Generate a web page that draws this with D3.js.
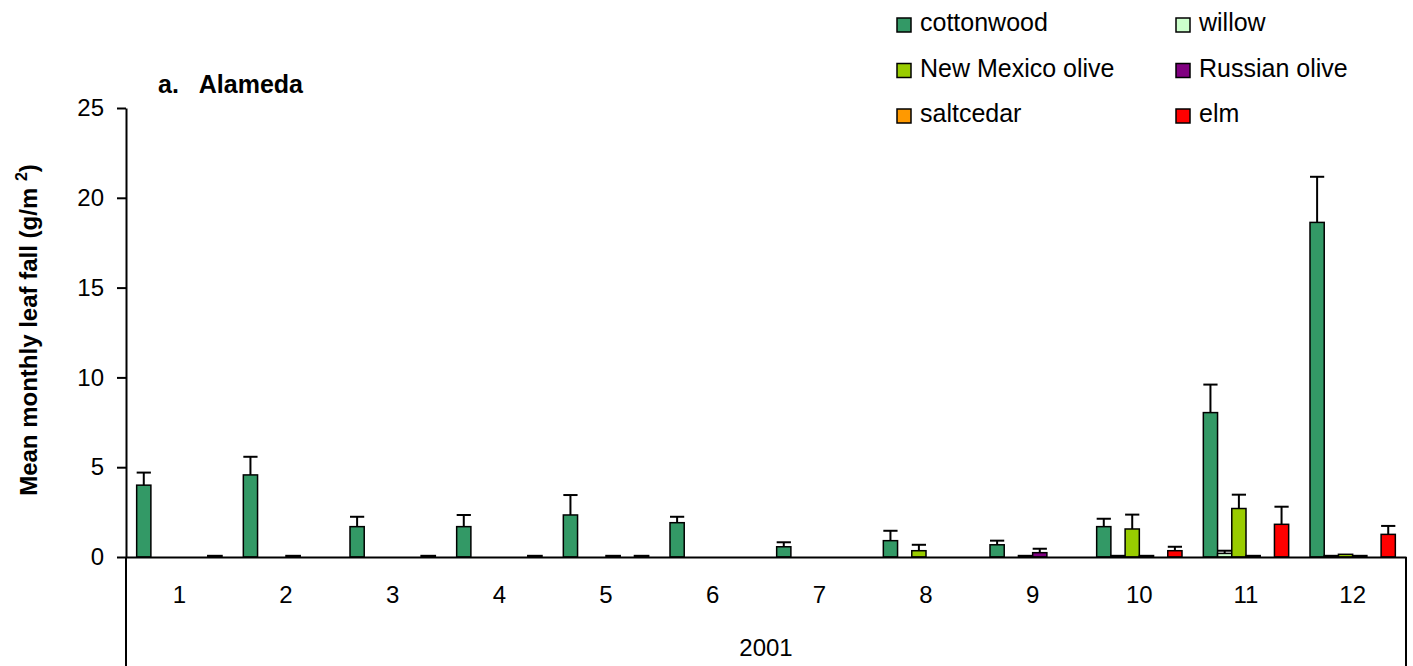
<!DOCTYPE html>
<html>
<head>
<meta charset="utf-8">
<script src="https://cdn.jsdelivr.net/npm/d3@7"></script>
<style>
    body { margin: 0; background: #fff; }
    text { font-family: Arial, "Liberation Sans", sans-serif; fill: #000; }
</style>
</head>
<body>
<svg id="chart"></svg>
<script>

// months and species
const months = ["1", "2", "3", "4", "5", "6", "7", "8", "9", "10", "11", "12"];
const species = ["cottonwood", "willow", "New Mexico olive", "Russian olive", "saltcedar", "elm"];
const speciesColors = ["#339966", "#CCFFCC", "#99CC00", "#800080", "#FF9900", "#FF0000"];

// mean monthly leaf fall (g/m2) per species
const cottonwood   = [4.0, 4.57, 1.69, 1.69, 2.34, 1.91, 0.57, 0.91, 0.68, 1.69, 8.04, 18.63];
const willow       = [0, 0, 0, 0, 0, 0, 0, 0, 0, 0.08, 0.2, 0.08];
const nmOlive      = [0, 0, 0, 0, 0, 0, 0, 0.35, 0.08, 1.56, 2.7, 0.15];
const russianOlive = [0, 0.08, 0, 0, 0.08, 0, 0, 0, 0.24, 0.08, 0.08, 0.08];
const saltcedar    = [0, 0, 0, 0, 0, 0, 0, 0, 0, 0, 0, 0];
const elm          = [0.08, 0, 0.08, 0.08, 0.08, 0, 0, 0, 0, 0.35, 1.82, 1.26];

// standard errors (upper error bars only)
const cottonwoodSE   = [0.7, 1.01, 0.55, 0.65, 1.11, 0.33, 0.25, 0.55, 0.23, 0.44, 1.56, 2.54];
const willowSE       = [0, 0, 0, 0, 0, 0, 0, 0, 0, 0, 0.15, 0];
const nmOliveSE      = [0, 0, 0, 0, 0, 0, 0, 0.33, 0, 0.8, 0.77, 0];
const russianOliveSE = [0, 0, 0, 0, 0, 0, 0, 0, 0.22, 0, 0, 0];
const saltcedarSE    = [0, 0, 0, 0, 0, 0, 0, 0, 0, 0, 0, 0];
const elmSE          = [0, 0, 0, 0, 0, 0, 0, 0, 0, 0.22, 0.98, 0.47];

const yTicks = [0, 5, 10, 15, 20, 25];
const year = "2001";
const title = "a.   Alameda";

const seriesValues = [cottonwood, willow, nmOlive, russianOlive, saltcedar, elm];
const seriesErrors = [cottonwoodSE, willowSE, nmOliveSE, russianOliveSE, saltcedarSE, elmSE];

let svgWidth = 1413;
let svgHeight = 666;
let plot = {left: 126, right: 1406, top: 108, bottom: 557};

let svg = d3.select("#chart")
    .attr("width", svgWidth)
    .attr("height", svgHeight);

let xScale = d3.scaleBand()
    .domain(months)
    .range([plot.left, plot.right])
    .padding(0);

// excel style gap width 150%
let xInner = d3.scaleBand()
    .domain(species)
    .range([0, xScale.bandwidth()])
    .paddingInner(0)
    .paddingOuter(0.75);

let yScale = d3.scaleLinear()
    .domain([0, 25])
    .range([plot.bottom, plot.top]);

// bars
let rows = [];
species.forEach((s, i) => {
    months.forEach((m, j) => {
        rows.push({species: s, color: speciesColors[i], month: m,
                   value: seriesValues[i][j], se: seriesErrors[i][j]});
    });
});

let bars = rows.filter(d => d.value > 0);

svg.append("g")
    .selectAll("rect")
    .data(bars)
    .join("rect")
    .attr("x", d => xScale(d.month) + xInner(d.species))
    .attr("y", d => yScale(d.value))
    .attr("width", xInner.bandwidth())
    .attr("height", d => yScale(0) - yScale(d.value))
    .attr("fill", d => d.color)
    .attr("stroke", "#000")
    .attr("stroke-width", 1.5);

// error bars
let errs = svg.append("g")
    .attr("stroke", "#000")
    .attr("stroke-width", 2)
    .selectAll("g")
    .data(rows.filter(d => d.se > 0))
    .join("g");

errs.append("line")
    .attr("x1", d => xScale(d.month) + xInner(d.species) + xInner.bandwidth() / 2)
    .attr("x2", d => xScale(d.month) + xInner(d.species) + xInner.bandwidth() / 2)
    .attr("y1", d => yScale(d.value))
    .attr("y2", d => yScale(d.value + d.se));

errs.append("line")
    .attr("x1", d => xScale(d.month) + xInner(d.species))
    .attr("x2", d => xScale(d.month) + xInner(d.species) + xInner.bandwidth())
    .attr("y1", d => yScale(d.value + d.se))
    .attr("y2", d => yScale(d.value + d.se));

// y axis
let yAxis = svg.append("g")
    .attr("transform", "translate(" + plot.left + ",0)")
    .call(d3.axisLeft(yScale).tickValues(yTicks).tickSize(9).tickSizeOuter(0).tickPadding(13));

yAxis.selectAll("text").style("font-size", "24px").attr("fill", "#000");
yAxis.selectAll("line, path").attr("stroke", "#000").attr("stroke-width", 2);

// x axis (month labels, no ticks)
let xAxis = svg.append("g")
    .attr("transform", "translate(0," + plot.bottom + ")")
    .call(d3.axisBottom(xScale).tickSize(0).tickSizeOuter(0).tickPadding(29));

xAxis.selectAll("text").style("font-size", "24px").attr("fill", "#000");
xAxis.select(".domain").attr("stroke", "#000").attr("stroke-width", 2);

// second level category box for the year
svg.append("line")
    .attr("x1", plot.left).attr("x2", plot.left)
    .attr("y1", plot.bottom).attr("y2", svgHeight)
    .attr("stroke", "#000").attr("stroke-width", 2);

svg.append("line")
    .attr("x1", plot.right).attr("x2", plot.right)
    .attr("y1", plot.bottom).attr("y2", svgHeight)
    .attr("stroke", "#000").attr("stroke-width", 2);

svg.append("text")
    .attr("x", (plot.left + plot.right) / 2)
    .attr("y", 656)
    .attr("text-anchor", "middle")
    .style("font-size", "24px")
    .text(year);

// y axis label
let yLabel = svg.append("text")
    .attr("transform", "translate(37," + 330 + ") rotate(-90)")
    .attr("text-anchor", "middle")
    .style("font-size", "24px")
    .style("font-weight", "bold")
    .style("white-space", "pre");

yLabel.append("tspan").text("Mean monthly leaf fall (g/m ");
yLabel.append("tspan").attr("dy", -10).style("font-size", "16px").text("2");
yLabel.append("tspan").attr("dy", 10).text(")");

// title
svg.append("text")
    .attr("x", 158)
    .attr("y", 93)
    .style("font-size", "25px")
    .style("font-weight", "bold")
    .style("white-space", "pre")
    .text(title);

// legend, two columns
let legend = svg.append("g")
    .selectAll("g")
    .data(species)
    .join("g")
    .attr("transform", (d, i) => "translate(" + (i % 2 === 0 ? 897 : 1176) + "," + (18 + Math.floor(i / 2) * 45.5) + ")");

legend.append("rect")
    .attr("width", 14)
    .attr("height", 14)
    .attr("fill", (d, i) => speciesColors[i])
    .attr("stroke", "#000")
    .attr("stroke-width", 1.5);

legend.append("text")
    .attr("x", 23)
    .attr("y", 13)
    .style("font-size", "25px")
    .text(d => d);

</script>
</body>
</html>
